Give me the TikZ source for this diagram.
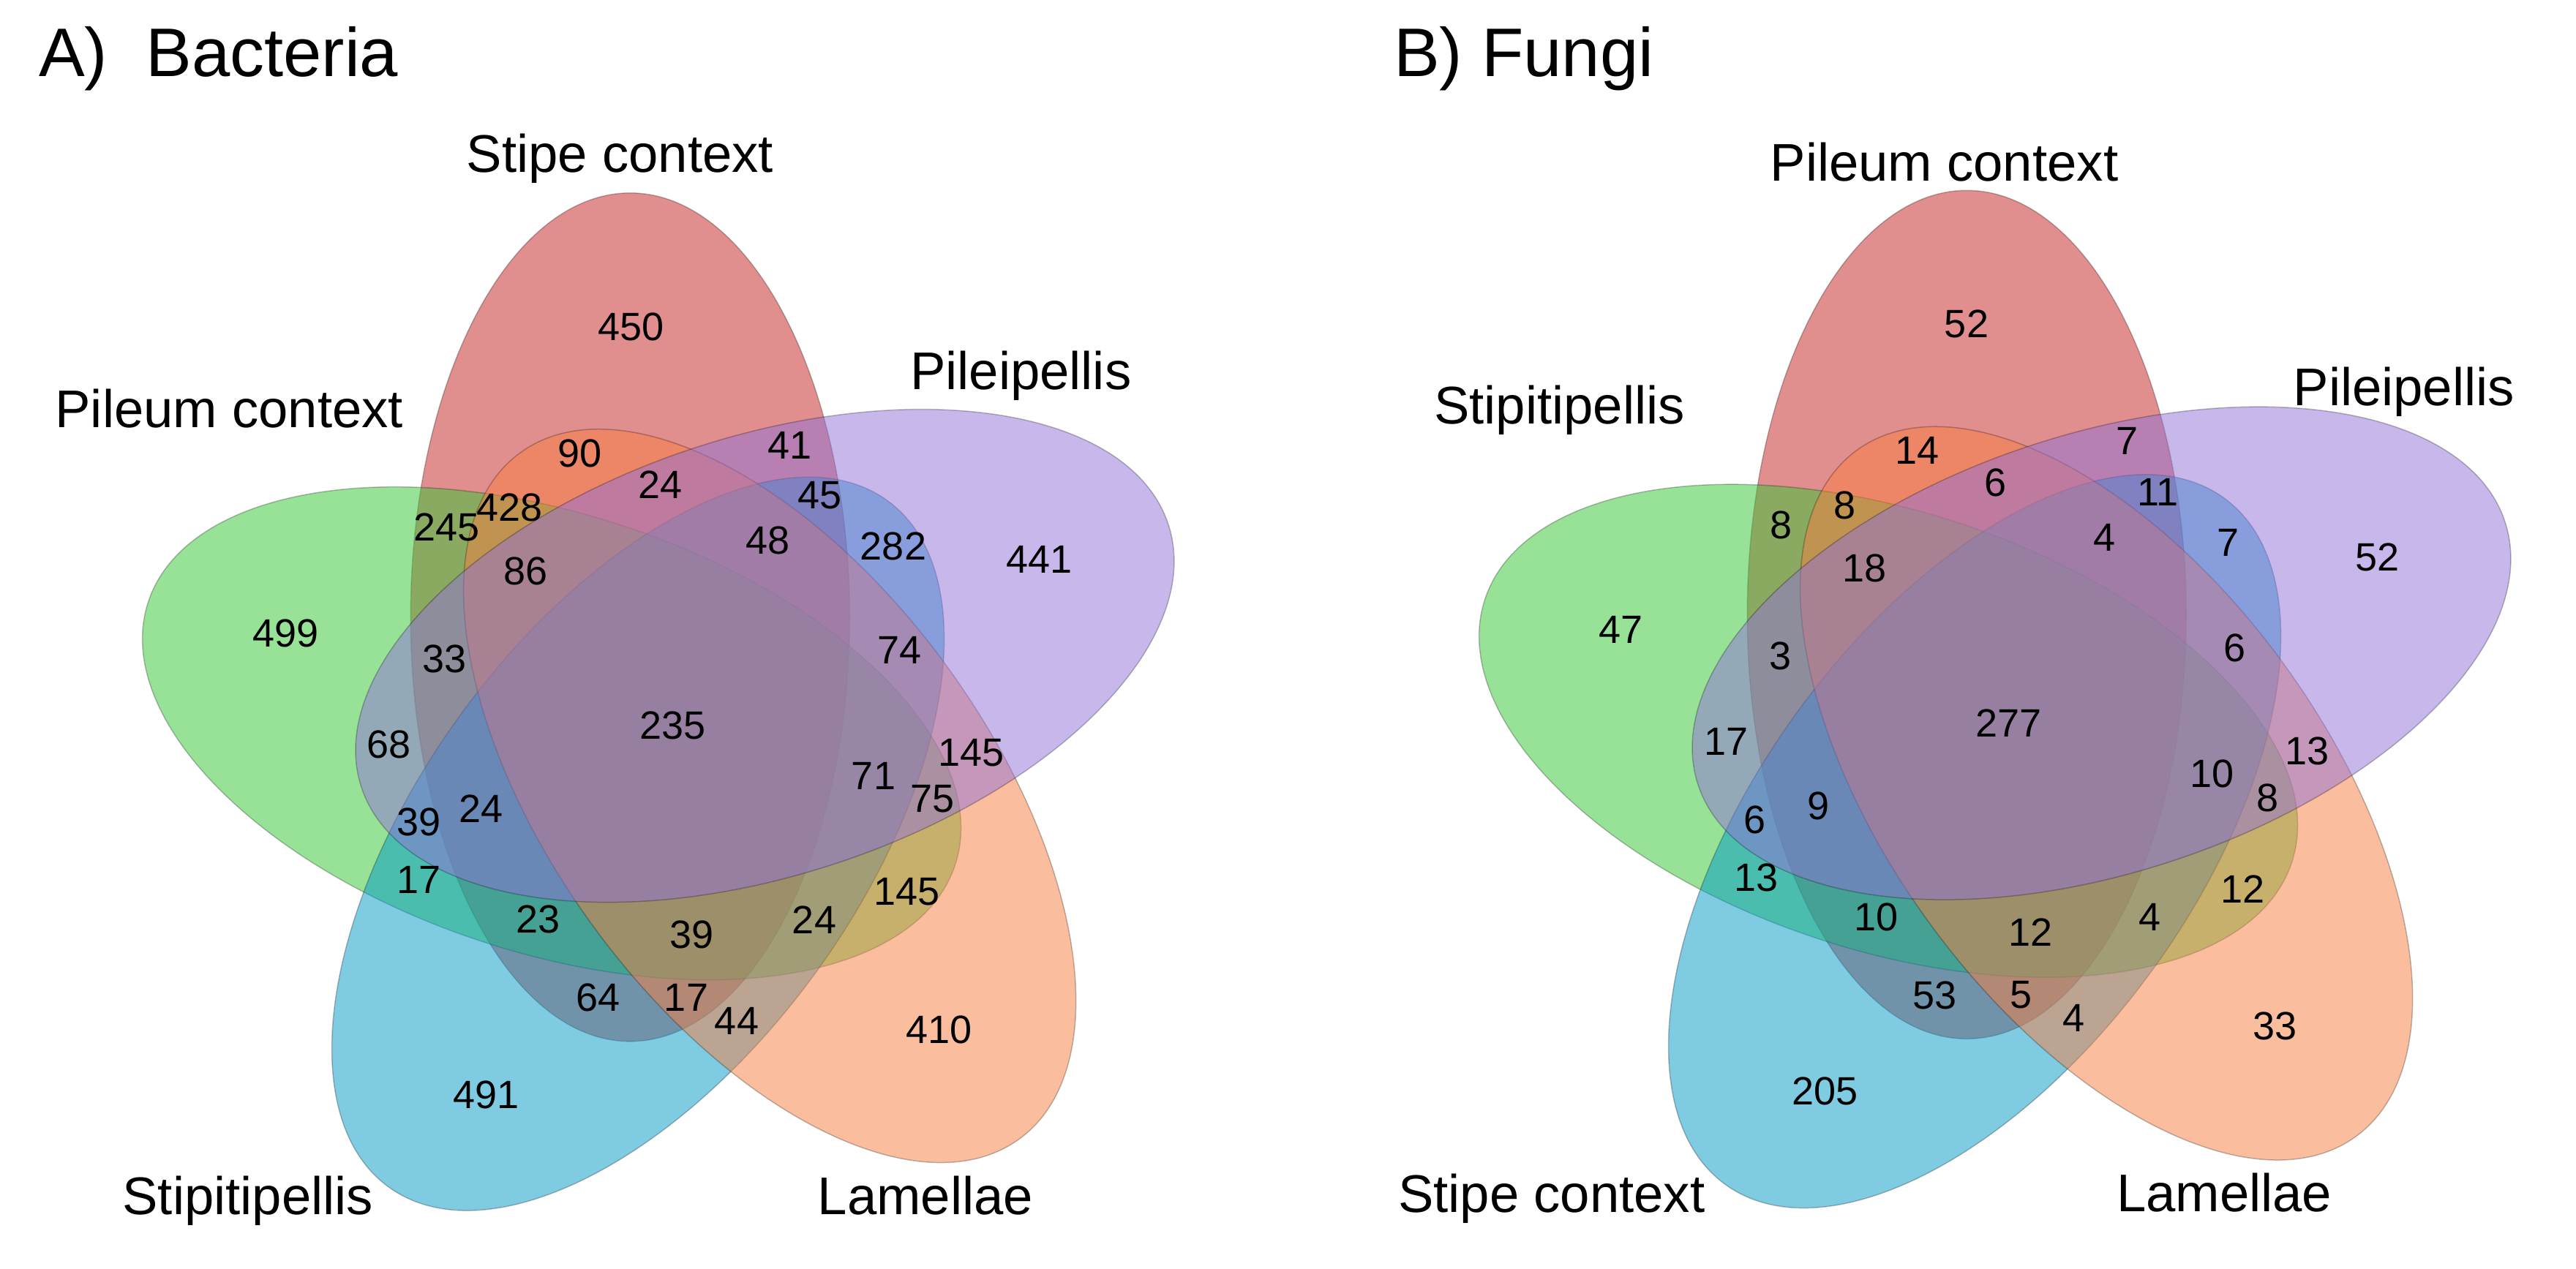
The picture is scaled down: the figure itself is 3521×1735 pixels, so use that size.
\documentclass[tikz,border=0pt]{standalone}
\usepackage{fontspec}
\setmainfont{Liberation Sans}
\definecolor{cred}{RGB}{197,31,31}
\definecolor{cgreen}{RGB}{51,199,51}
\definecolor{cblue}{RGB}{0,153,199}
\definecolor{corange}{RGB}{247,127,65}
\definecolor{cpurple}{RGB}{145,113,215}
\tikzset{
  ell/.style={draw=black, draw opacity=0.25, line width=1.5pt, fill opacity=0.5},
  num/.style={inner sep=0pt, font=\fontsize{54}{60}\selectfont},
  lab/.style={inner sep=0pt, anchor=base, font=\fontsize{72.5}{80}\selectfont},
  ttl/.style={inner sep=0pt, anchor=base west, font=\fontsize{94}{100}\selectfont}
}
\begin{document}
\begin{tikzpicture}[x=1pt,y=1pt]
\useasboundingbox (0,0) rectangle (3521,1735);
\fill[white] (0,0) rectangle (3521,1735);
% ellipses, panel A
\begin{scope}[shift={(917pt,738pt)}]
  \foreach \k/\c in {0/cred,1/cgreen,2/cblue,3/corange,4/cpurple}{
    \begin{scope}[rotate=72*\k]
      \path[ell, fill=\c] (110:163) ellipse [x radius=300, y radius=580];
    \end{scope}
  }
\end{scope}
% ellipses, panel B
\begin{scope}[shift={(2744pt,741.5pt)}]
  \foreach \k/\c in {0/cred,1/cgreen,2/cblue,3/corange,4/cpurple}{
    \begin{scope}[rotate=72*\k]
      \path[ell, fill=\c] (110:163) ellipse [x radius=300, y radius=580];
    \end{scope}
  }
\end{scope}
\begin{scope}[shift={(0pt,1735pt)}, y=-1pt]
% titles
\node[ttl] (ta) at (53,105) {A)\ \ Bacteria};
\node[ttl] (tb) at (1905,105) {B) Fungi};
% panel A labels
\node[lab] (la1) at (847.5,236) {Stipe context};
\node[lab] (la2) at (313.3,584.5) {Pileum context};
\node[lab] (la3) at (1395.3,533) {Pileipellis};
\node[lab] (la4) at (338.8,1660.7) {Stipitipellis};
\node[lab] (la5) at (1264.8,1660.7) {Lamellae};
% panel A numbers
\node[num] (a01) at (862.2,446.7) {450};
\node[num] (a02) at (390.3,866.1) {499};
\node[num] (a03) at (1420.7,765.2) {441};
\node[num] (a04) at (664.3,1496.7) {491};
\node[num] (a05) at (1283.6,1408.3) {410};
\node[num] (a06) at (792.7,620.0) {90};
\node[num] (a07) at (1079.7,609.1) {41};
\node[num] (a08) at (902.4,663.1) {24};
\node[num] (a09) at (1120.5,677.4) {45};
\node[num] (a10) at (696.8,693.5) {428};
\node[num] (a11) at (610.7,720.5) {245};
\node[num] (a12) at (1049.9,739.4) {48};
\node[num] (a13) at (1221.0,746.9) {282};
\node[num] (a14) at (718.7,781.3) {86};
\node[num] (a15) at (607.9,900.7) {33};
\node[num] (a16) at (1229.6,888.7) {74};
\node[num] (a17) at (919.6,992.0) {235};
\node[num] (a18) at (531.5,1017.9) {68};
\node[num] (a19) at (1327.3,1029.5) {145};
\node[num] (a20) at (1194.0,1060.9) {71};
\node[num] (a21) at (1274.9,1092.5) {75};
\node[num] (a22) at (572.3,1124.1) {39};
\node[num] (a23) at (657.8,1105.7) {24};
\node[num] (a24) at (572.3,1203.3) {17};
\node[num] (a25) at (1239.3,1218.8) {145};
\node[num] (a26) at (735.3,1257.2) {23};
\node[num] (a27) at (1113.0,1257.2) {24};
\node[num] (a28) at (945.4,1277.9) {39};
\node[num] (a29) at (817.4,1364.0) {64};
\node[num] (a30) at (938.0,1364.0) {17};
\node[num] (a31) at (1007,1395.5) {44};
% panel B labels
\node[lab] (lb1) at (2657.5,247.3) {Pileum context};
\node[lab] (lb2) at (2131.6,580) {Stipitipellis};
\node[lab] (lb3) at (3285.8,555) {Pileipellis};
\node[lab] (lb4) at (2120.8,1657.3) {Stipe context};
\node[lab] (lb5) at (3040.1,1657) {Lamellae};
% panel B numbers
\node[num] (b01) at (2688,443.3) {52};
\node[num] (b02) at (2215.4,861.2) {47};
\node[num] (b03) at (3249.5,761.7) {52};
\node[num] (b04) at (2494.6,1491.7) {205};
\node[num] (b05) at (3109.9,1403.3) {33};
\node[num] (b06) at (2620.8,616.0) {14};
\node[num] (b07) at (2907.8,603.4) {7};
\node[num] (b08) at (2727.0,660.2) {6};
\node[num] (b09) at (2949.1,673.4) {11};
\node[num] (b10) at (2521.5,690.6) {8};
\node[num] (b11) at (2434.2,717.6) {8};
\node[num] (b12) at (2876.2,734.8) {4};
\node[num] (b13) at (3045.0,742.3) {7};
\node[num] (b14) at (2548.5,776.8) {18};
\node[num] (b15) at (2433.6,897.3) {3};
\node[num] (b16) at (3054.2,885.8) {6};
\node[num] (b17) at (2745.3,989.1) {277};
\node[num] (b18) at (2359.6,1013.8) {17};
\node[num] (b19) at (3153.4,1027) {13};
\node[num] (b20) at (3023.8,1058.0) {10};
\node[num] (b21) at (3099.6,1091.3) {8};
\node[num] (b22) at (2485.3,1102.2) {9};
\node[num] (b23) at (2398.0,1121.2) {6};
\node[num] (b24) at (2400.9,1200.4) {13};
\node[num] (b25) at (3065.1,1215.9) {12};
\node[num] (b26) at (2564.5,1254.4) {10};
\node[num] (b27) at (2938.8,1254.4) {4};
\node[num] (b28) at (2775.2,1274.5) {12};
\node[num] (b29) at (2644.9,1360.6) {53};
\node[num] (b30) at (2762.6,1360.6) {5};
\node[num] (b31) at (2834.3,1392.1) {4};
\end{scope}
\end{tikzpicture}
\end{document}
